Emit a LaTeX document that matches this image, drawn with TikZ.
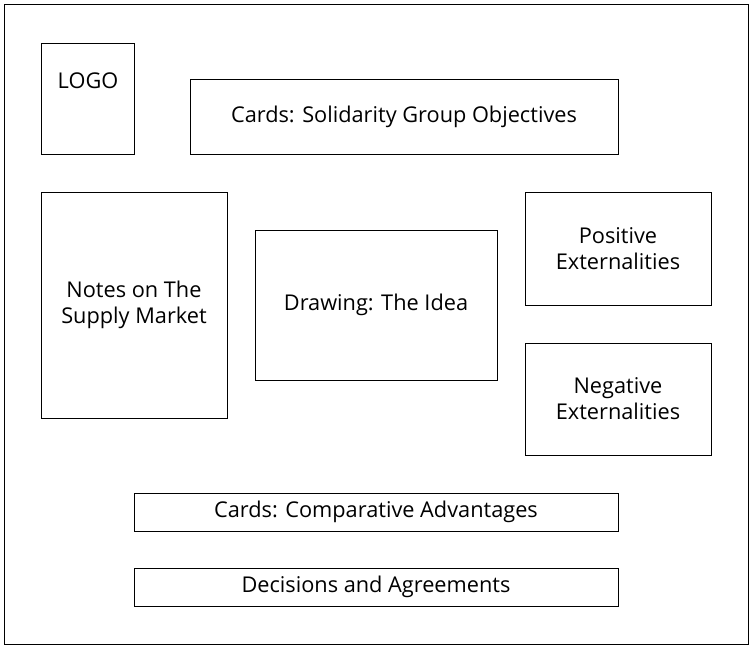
\documentclass[tikz,border=0pt]{standalone}
\usepackage{fontspec}
\setmainfont{Open Sans}
\usetikzlibrary{calc}
\tikzset{box/.style={draw, thin, align=center, inner sep=0pt, font=\fontsize{16.3}{19.5}\selectfont, execute at begin node=\vspace*{4.5pt}}}
% name, x1, y1, x2, y2, text (pixel coordinates)
\newcommand{\panel}[6]{\node[box, minimum width=#4*0.75pt-#2*0.75pt, minimum height=#5*0.75pt-#3*0.75pt] (#1) at ({(#2+#4)/2},{(#3+#5)/2}) {#6};}
\begin{document}
\begin{tikzpicture}[x=0.75pt, y=-0.75pt]
        \useasboundingbox (0,0) rectangle (752,648);
        % frame
        \draw (4,4) rectangle (748,644);
        % top row
        \node[draw, thin, minimum width=93*0.75pt, minimum height=111*0.75pt] (logobox) at (87.5,98.5) {};
        \node[font=\fontsize{16.3}{19.5}\selectfont] (logo) at (88,81) {LOGO};
        \panel{objectives}{190}{79}{618}{154}{Cards: Solidarity Group Objectives}
        % middle row
        \panel{notes}{41}{192}{227}{418}{Notes on The\\Supply Market}
        \panel{idea}{255}{230}{497}{380}{Drawing: The Idea}
        \panel{positive}{525}{192}{711}{305}{Positive\\Externalities}
        \panel{negative}{525}{343}{711}{455}{Negative\\Externalities}
        % bottom rows
        \panel{advantages}{134}{493}{618}{531}{Cards: Comparative Advantages}
        \panel{decisions}{134}{568}{618}{606}{Decisions and Agreements}
\end{tikzpicture}
\end{document}
